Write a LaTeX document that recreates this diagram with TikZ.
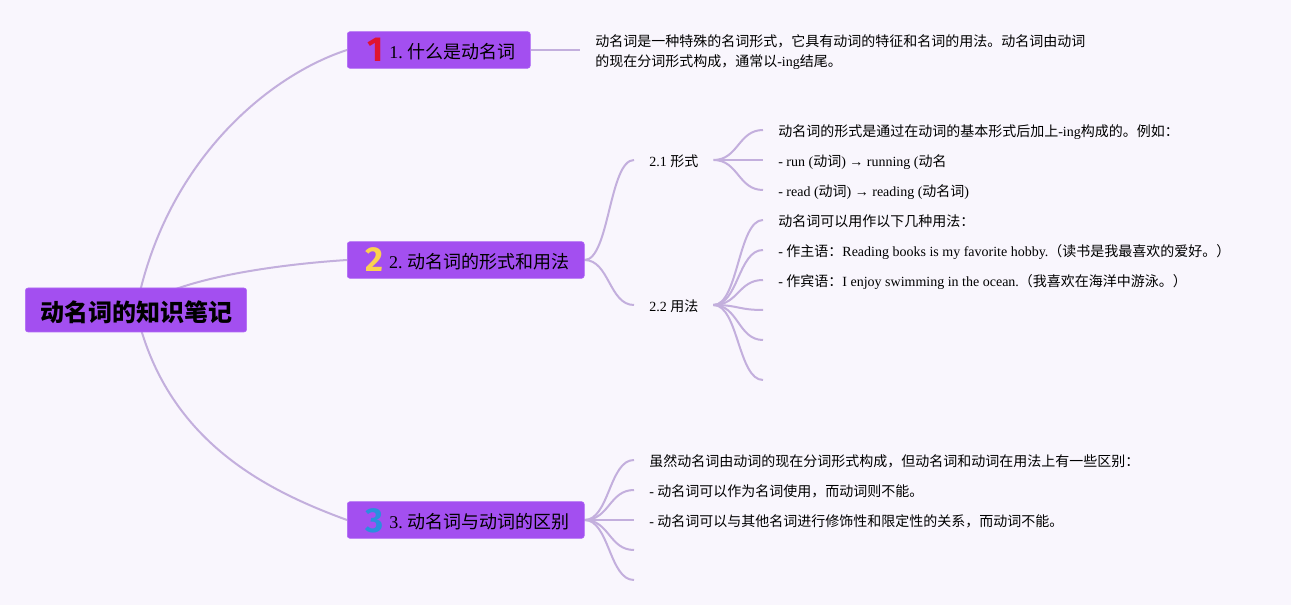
\documentclass[tikz,border=0pt]{standalone}
\usepackage{fontspec}
\setmainfont{Liberation Serif}
\newfontfamily\cjkfont{Noto Sans CJK SC}
\newfontfamily\badgefont{Fira Sans}
\usepackage{xcolor}
\usepackage{tikz}
\usetikzlibrary{calc,backgrounds}
\definecolor{pagebg}{HTML}{F9F6FD}
\definecolor{boxfill}{HTML}{A34FF0}
\definecolor{boxedge}{HTML}{B06AF5}
\definecolor{linkcol}{HTML}{C3AFDD}
\definecolor{numred}{HTML}{E0142F}
\definecolor{numyellow}{HTML}{FBD24F}
\definecolor{numblue}{HTML}{2A8FDE}
\newcommand{\zh}[1]{{\cjkfont #1}}
\newcommand{\badge}[3]{\hspace*{#1}\smash{\raisebox{-2.5pt}{\fontsize{26}{26}\badgefont\bfseries\color{#2}#3}}\hspace{4pt}}
\tikzset{
  rootbox/.style={draw=boxedge,fill=boxfill,rounded corners=2pt,inner sep=0pt,minimum width=166pt,minimum height=33pt,text height=18pt,text depth=1pt,font=\fontsize{18}{18}\selectfont\bfseries},
  branchbox/.style={draw=boxedge,fill=boxfill,rounded corners=2pt,anchor=west,inner xsep=0pt,inner ysep=0pt,align=left,minimum height=27.5pt,text height=16pt,text depth=3pt,font=\fontsize{13.5}{13.5}\selectfont},
  subnode/.style={anchor=west,inner xsep=11.25pt,inner ysep=0pt,text height=10pt,text depth=0pt,font=\fontsize{10.5}{10.5}\selectfont},
  leaftext/.style={anchor=west,inner xsep=11.25pt,inner ysep=0pt,text height=10pt,text depth=0pt,font=\fontsize{10.5}{10.5}\selectfont},
  link/.style={draw=linkcol,line width=1.5pt,to path={let \p1=(\tikztostart),\p2=(\tikztotarget) in .. controls ({0.5*\x1+0.5*\x2},\y1) and ({0.5*\x1+0.5*\x2},\y2) .. (\tikztotarget)}},
  rootlink/.style={draw=linkcol,line width=1.5pt}
}
\begin{document}
\begin{tikzpicture}[x=0.75pt,y=-0.75pt]
    \useasboundingbox (0,0) rectangle (1291,605);
    % ===== ROOT =====
    \node[rootbox] (root) at (136,310) {\zh{动名词的知识笔记}};
    % ===== BRANCH 1 =====
    \node[branchbox,text width=137.25pt] (b1) at (347,50) {\badge{15.5pt}{numred}{1}1.\hspace{3.5pt}\zh{什么是动名词}};
    \node[anchor=west,inner xsep=11.25pt,inner ysep=0pt,align=left,text height=25.5pt,text depth=0pt,font=\fontsize{10.5}{15}\selectfont] (leafa) at (580,50) {\zh{动名词是一种特殊的名词形式，它具有动词的特征和名词的用法。动名词由动词}\\\zh{的现在分词形式构成，通常以}-ing\zh{结尾。}};
    % ===== BRANCH 2 =====
    \node[branchbox,text width=177.75pt] (b2) at (347,260) {\badge{14pt}{numyellow}{2}2.\hspace{3.5pt}\zh{动名词的形式和用法}};
    \node[subnode] (form) at (634,160) {2.1 \zh{形式}};
    \node[subnode] (usage) at (634,305) {2.2 \zh{用法}};
    \node[leaftext] (forma) at (763,130) {\zh{动名词的形式是通过在动词的基本形式后加上}-ing\zh{构成的。例如：}};
    \node[leaftext] (formb) at (763,160) {- run (\zh{动词}) → running (\zh{动名}};
    \node[leaftext] (formc) at (763,190) {- read (\zh{动词}) → reading (\zh{动名词})};
    \node[leaftext] (usea) at (763,220) {\zh{动名词可以用作以下几种用法：}};
    \node[leaftext] (useb) at (763,250) {- \zh{作主语：}Reading books is my favorite hobby.\zh{（读书是我最喜欢的爱好。）}};
    \node[leaftext] (usec) at (763,280) {- \zh{作宾语：}I enjoy swimming in the ocean.\zh{（我喜欢在海洋中游泳。）}};
    \coordinate (used) at (763,310);
    \coordinate (usee) at (763,340);
    \coordinate (usef) at (763,380);
    % ===== BRANCH 3 =====
    \node[branchbox,text width=177.75pt] (b3) at (347,520) {\badge{14pt}{numblue}{3}3.\hspace{3.5pt}\zh{动名词与动词的区别}};
    \node[leaftext] (diffa) at (634,460) {\zh{虽然动名词由动词的现在分词形式构成，但动名词和动词在用法上有一些区别：}};
    \node[leaftext] (diffb) at (634,490) {- \zh{动名词可以作为名词使用，而动词则不能。}};
    \node[leaftext] (diffc) at (634,520) {- \zh{动名词可以与其他名词进行修饰性和限定性的关系，而动词不能。}};
    \coordinate (diffd) at (634,550);
    \coordinate (diffe) at (634,580);
    % ===== CONNECTORS =====
    \begin{scope}[on background layer]
      \fill[pagebg] (0,0) rectangle (1291,605);
      \draw[rootlink] (root.center) .. controls (165,160) and (270,75) .. (b1.west);
      \draw[rootlink] (root.center) .. controls (170,280) and (270,265) .. (b2.west);
      \draw[rootlink] (root.center) .. controls (165,440) and (265,490) .. (b3.west);
      \draw[rootlink] (b1.east) -- (leafa.west);
      \draw[link] (b2.east) to (form.west);
      \draw[link] (b2.east) to (usage.west);
      \draw[link] (form.east) to (forma.west);
      \draw[link] (form.east) to (formb.west);
      \draw[link] (form.east) to (formc.west);
      \draw[link] (usage.east) to (usea.west);
      \draw[link] (usage.east) to (useb.west);
      \draw[link] (usage.east) to (usec.west);
      \draw[link] (usage.east) to (used);
      \draw[link] (usage.east) to (usee);
      \draw[link] (usage.east) to (usef);
      \draw[link] (b3.east) to (diffa.west);
      \draw[link] (b3.east) to (diffb.west);
      \draw[link] (b3.east) to (diffc.west);
      \draw[link] (b3.east) to (diffd);
      \draw[link] (b3.east) to (diffe);
    \end{scope}
  \end{tikzpicture}
\end{document}
